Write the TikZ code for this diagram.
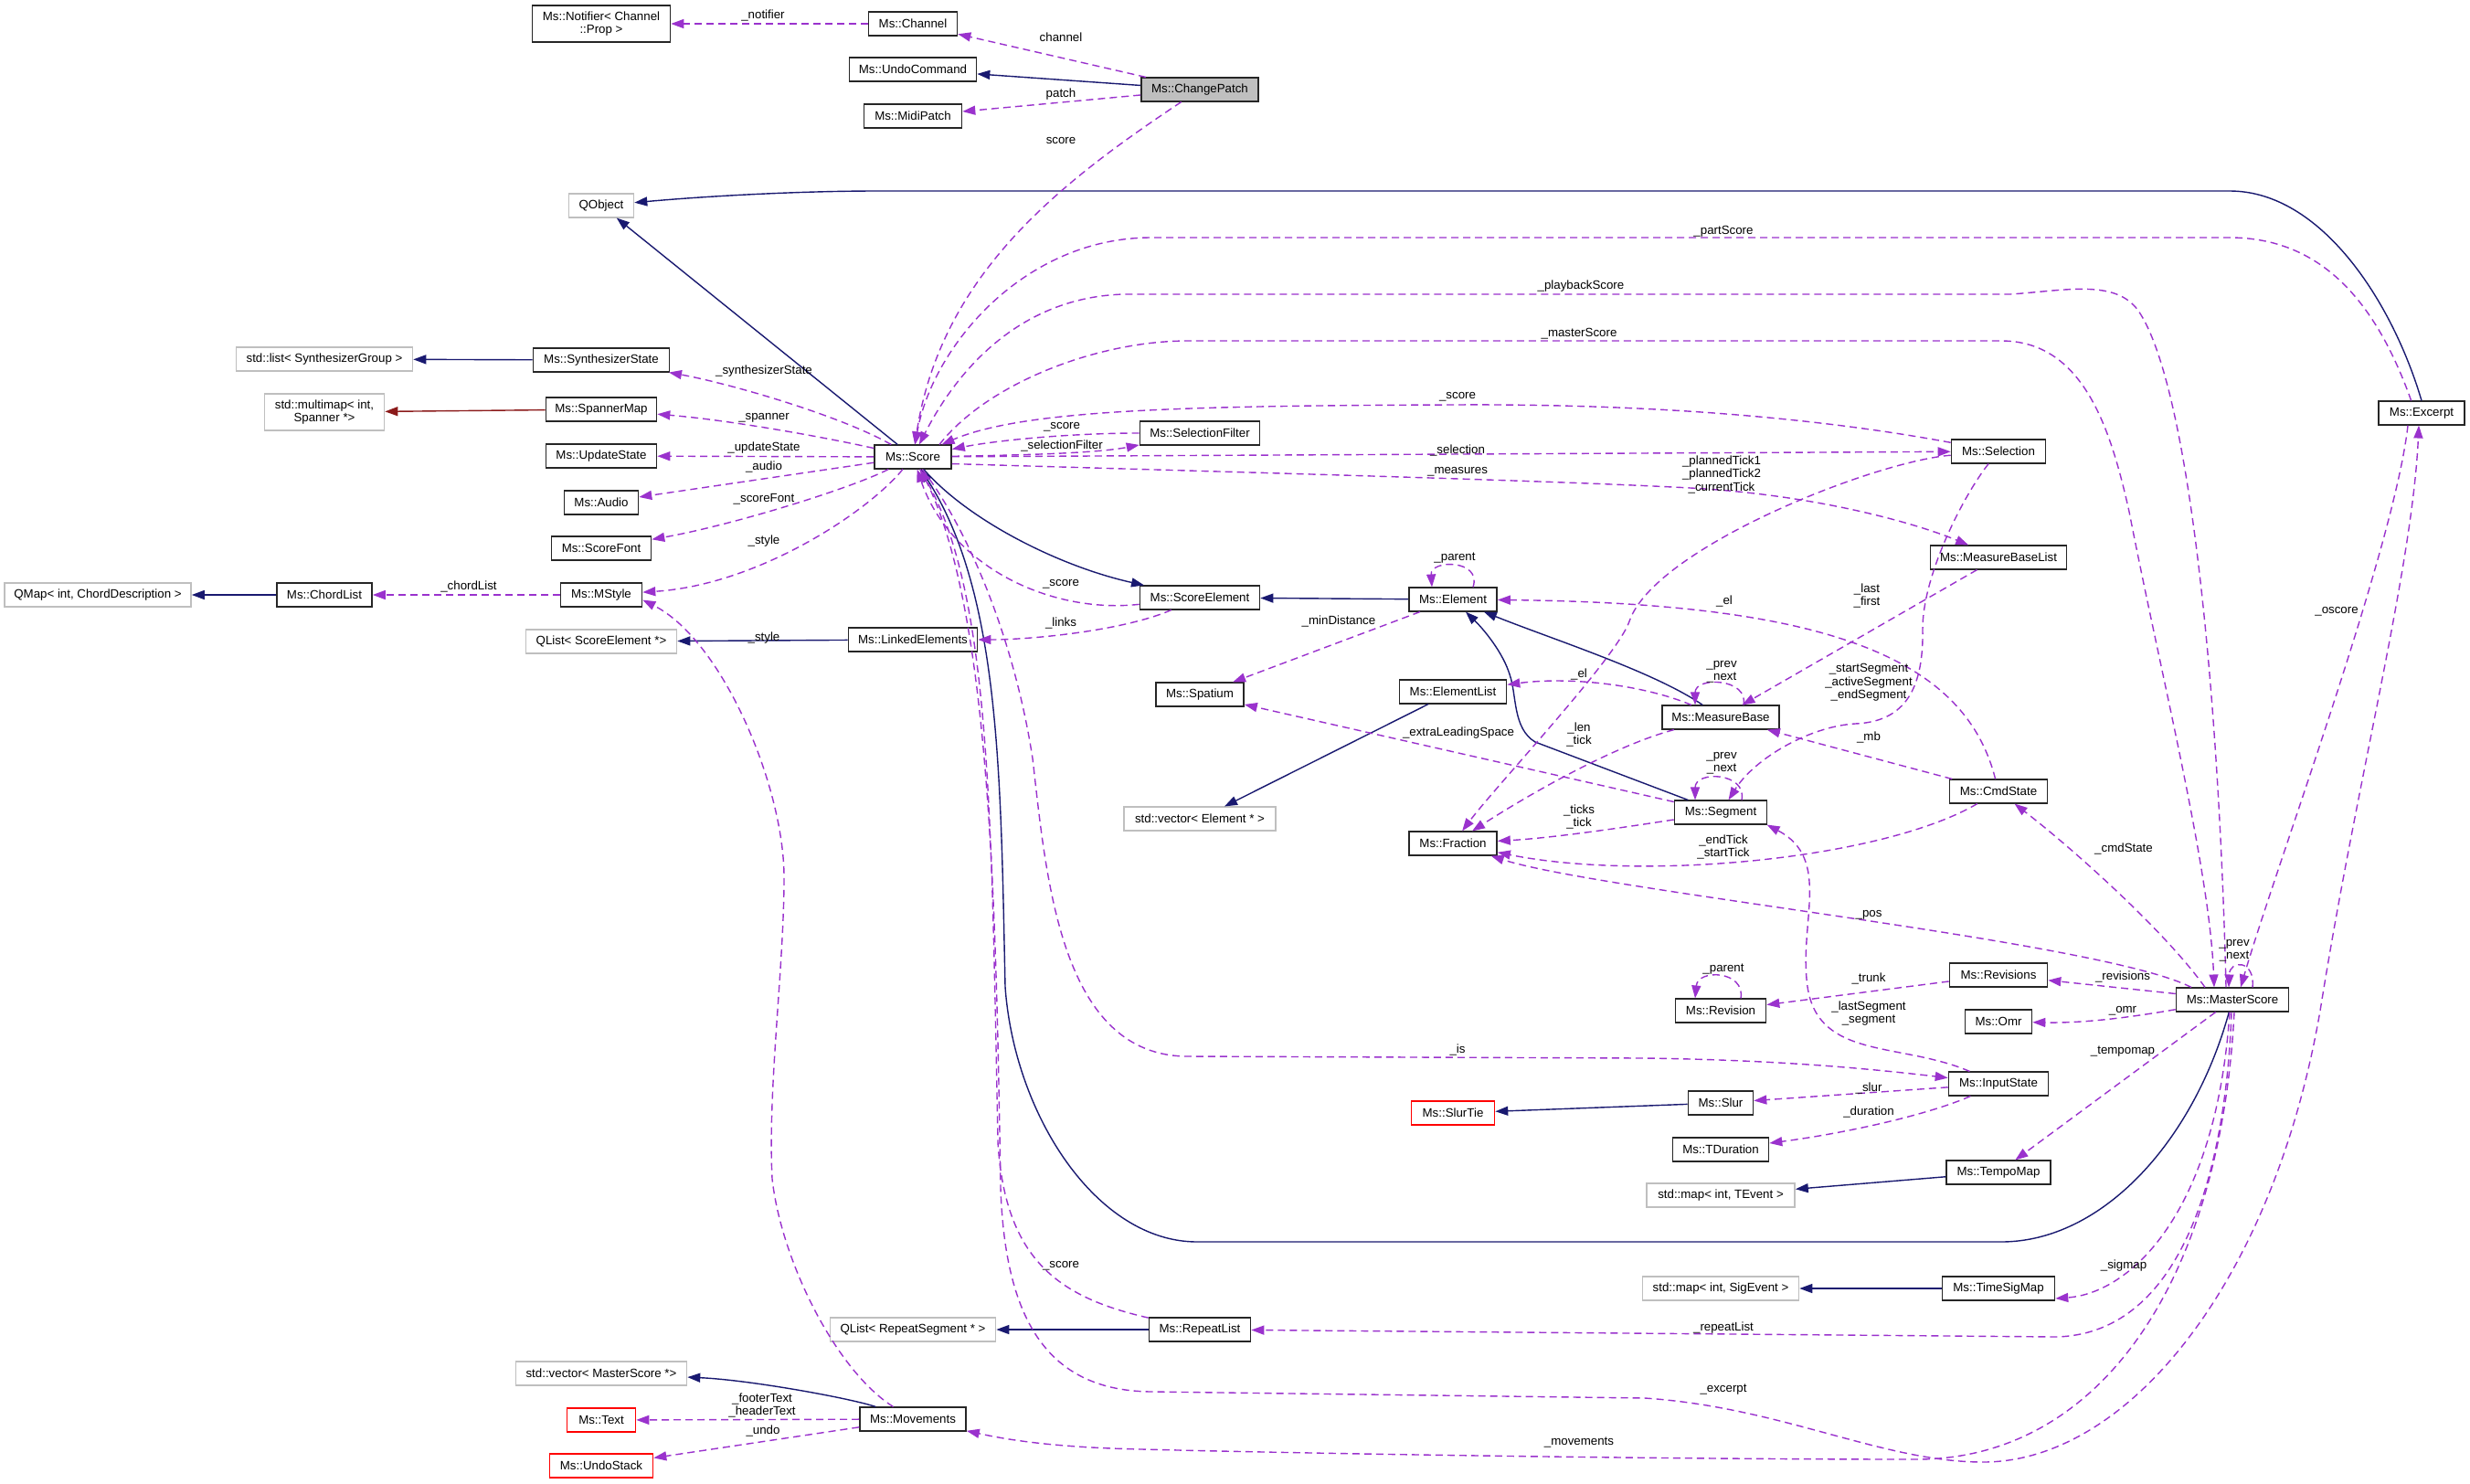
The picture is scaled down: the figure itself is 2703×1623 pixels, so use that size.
\documentclass[tikz,border=0pt]{standalone}
\usepackage{fontspec}
\setmainfont{Liberation Sans}
\usetikzlibrary{arrows.meta}
\definecolor{inhc}{HTML}{191970}
\definecolor{usec}{HTML}{9A32CD}
\definecolor{tplc}{HTML}{8B1A1A}
\definecolor{extc}{HTML}{BFBFBF}
\definecolor{redc}{HTML}{FF0000}
\begin{document}
\begin{tikzpicture}[x=1pt,y=-1pt,
  every node/.style={font=\fontsize{13.3pt}{14.5pt}\selectfont},
  box/.style={draw=black!85, line width=1.6pt, fill=white, minimum height=25.5pt, inner sep=0pt, align=center},
  ext/.style={box, draw=extc},
  miss/.style={box, draw=redc},
  root/.style={box, fill=extc},
  tall/.style={minimum height=40pt},
  inh/.style={draw=inhc, line width=1.4pt, -{Triangle[length=14pt,width=10pt]}},
  tpl/.style={inh, draw=tplc},
  usage/.style={draw=usec, line width=1.4pt, dash pattern=on 8pt off 5pt, -{Triangle[length=14pt,width=10pt]}},
  lbl/.style={align=center, inner sep=0pt, text=black},
]
\fill[white] (0,0) rectangle (2703,1623);
\useasboundingbox (0,0) rectangle (2703,1623);

% ---------- nodes ----------
\node[box, minimum width=151pt, tall] (notifier) at (658,26) {Ms::Notifier< Channel\\::Prop >};
\node[box, minimum width=97pt] (channel) at (999,26) {Ms::Channel};
\node[box, minimum width=139pt] (undocmd) at (999,76) {Ms::UndoCommand};
\node[root, minimum width=128pt] (changepatch) at (1313,98) {Ms::ChangePatch};
\node[box, minimum width=107pt] (midipatch) at (999,127) {Ms::MidiPatch};
\node[ext, minimum width=71pt] (qobject) at (658,225) {QObject};
\node[ext, minimum width=193pt] (stdlist) at (355,393) {std::list< SynthesizerGroup >};
\node[box, minimum width=149pt] (synthstate) at (658,394) {Ms::SynthesizerState};
\node[ext, minimum width=131pt, tall] (multimap) at (355,451) {std::multimap< int,\\Spanner *>};
\node[box, minimum width=121pt] (spannermap) at (658,448) {Ms::SpannerMap};
\node[box, minimum width=121pt] (updatestate) at (658,499) {Ms::UpdateState};
\node[box, minimum width=81pt] (audio) at (658,550) {Ms::Audio};
\node[box, minimum width=109pt] (scorefont) at (658,600) {Ms::ScoreFont};
\node[ext, minimum width=204pt] (qmap) at (107,651) {QMap< int, ChordDescription >};
\node[box, minimum width=104pt] (chordlist) at (355,651) {Ms::ChordList};
\node[box, minimum width=89pt] (mstyle) at (658,651) {Ms::MStyle};
\node[ext, minimum width=165pt] (qlistse) at (658,702) {QList< ScoreElement *>};
\node[box, minimum width=84pt] (score) at (999,500) {Ms::Score};
\node[box, minimum width=131pt] (selfilter) at (1313,474) {Ms::SelectionFilter};
\node[box, minimum width=141pt] (linked) at (999,700) {Ms::LinkedElements};
\node[box, minimum width=131pt] (scoreel) at (1313,654) {Ms::ScoreElement};
\node[box, minimum width=96pt] (spatium) at (1313,760) {Ms::Spatium};
\node[ext, minimum width=166pt] (vecel) at (1313,896) {std::vector< Element * >};
\node[ext, minimum width=181pt] (qlistrs) at (999,1455) {QList< RepeatSegment * >};
\node[box, minimum width=111pt] (repeatlist) at (1313,1455) {Ms::RepeatList};
\node[ext, minimum width=187pt] (vecms) at (658,1503) {std::vector< MasterScore *>};
\node[miss, minimum width=75pt] (txt) at (658,1554) {Ms::Text};
\node[miss, minimum width=113pt] (undostack) at (658,1604) {Ms::UndoStack};
\node[box, minimum width=116pt] (movements) at (999,1553) {Ms::Movements};
\node[box, minimum width=96pt] (element) at (1590,656) {Ms::Element};
\node[box, minimum width=117pt] (elementlist) at (1590,757) {Ms::ElementList};
\node[box, minimum width=96pt] (fraction) at (1590,923) {Ms::Fraction};
\node[miss, minimum width=91pt] (slurtie) at (1590,1218) {Ms::SlurTie};
\node[box, minimum width=128pt] (measurebase) at (1883,785) {Ms::MeasureBase};
\node[box, minimum width=101pt] (segment) at (1883,889) {Ms::Segment};
\node[box, minimum width=99pt] (revision) at (1883,1106) {Ms::Revision};
\node[box, minimum width=71pt] (slur) at (1883,1207) {Ms::Slur};
\node[box, minimum width=105pt] (tduration) at (1883,1258) {Ms::TDuration};
\node[ext, minimum width=162pt] (mapte) at (1883,1308) {std::map< int, TEvent >};
\node[ext, minimum width=171pt] (mapse) at (1883,1410) {std::map< int, SigEvent >};
\node[box, minimum width=103pt] (selection) at (2187,494) {Ms::Selection};
\node[box, minimum width=149pt] (mbl) at (2187,610) {Ms::MeasureBaseList};
\node[box, minimum width=107pt] (cmdstate) at (2187,866) {Ms::CmdState};
\node[box, minimum width=107pt] (revisions) at (2187,1067) {Ms::Revisions};
\node[box, minimum width=73pt] (omr) at (2187,1118) {Ms::Omr};
\node[box, minimum width=109pt] (inputstate) at (2187,1186) {Ms::InputState};
\node[box, minimum width=114pt] (tempomap) at (2187,1283) {Ms::TempoMap};
\node[box, minimum width=123pt] (timesigmap) at (2187,1410) {Ms::TimeSigMap};
\node[box, minimum width=123pt] (masterscore) at (2443,1094) {Ms::MasterScore};
\node[box, minimum width=94pt] (excerpt) at (2650,452) {Ms::Excerpt};

% ---------- inheritance ----------
\draw[inh] (changepatch) -- (undocmd);
\draw[inh] (excerpt.north) .. controls (2618,330) and (2540,209) .. (2440,209) -- (960,209) .. controls (880,209) and (780,214) .. (qobject);
\draw[inh] (score) -- (qobject);
\draw[inh] (synthstate) -- (stdlist);
\draw[tpl] (spannermap) -- (multimap);
\draw[inh] (chordlist) -- (qmap);
\draw[inh] (score) .. controls (1060,570) and (1160,620) .. (scoreel);
\draw[inh] (element) -- (scoreel);
\draw[inh] (linked) -- (qlistse);
\draw[inh] (elementlist) -- (vecel);
\draw[inh] (measurebase) .. controls (1810,735) and (1700,700) .. (element);
\draw[inh] (segment) -- (1680,812) .. controls (1655,797) and (1660,760) .. (1652,738) .. controls (1645,715) and (1625,690) .. (element);
\draw[inh] (masterscore) .. controls (2400,1250) and (2300,1359) .. (2190,1359) -- (1310,1359) .. controls (1200,1359) and (1110,1220) .. (1100,1080) .. controls (1095,850) and (1095,650) .. (score);
\draw[inh] (movements) .. controls (930,1530) and (820,1510) .. (vecms);
\draw[inh] (repeatlist) -- (qlistrs);
\draw[inh] (slur) -- (slurtie);
\draw[inh] (tempomap) -- (mapte);
\draw[inh] (timesigmap) -- (mapse);

% ---------- usage ----------
\draw[usage] (channel) -- (notifier);
\draw[usage] (changepatch) -- (channel);
\draw[usage] (changepatch) -- (midipatch);
\draw[usage] (changepatch) .. controls (1160,200) and (1030,300) .. (score);
\draw[usage] (score) .. controls (920,455) and (800,420) .. (synthstate);
\draw[usage] (score) .. controls (900,478) and (800,460) .. (spannermap);
\draw[usage] (score) -- (updatestate);
\draw[usage] (score) -- (audio);
\draw[usage] (score) .. controls (930,535) and (800,575) .. (scorefont);
\draw[usage] (score) .. controls (950,560) and (830,640) .. (mstyle);
\draw[usage] (mstyle) -- (chordlist);
\draw[usage] (movements) .. controls (915,1500) and (855,1380) .. (845,1290) .. controls (840,1190) and (858,1060) .. (858,960) .. controls (858,860) and (790,700) .. (mstyle.-7);
\draw[usage] (scoreel) .. controls (1230,690) and (1130,700) .. (linked);
\draw[usage] (scoreel) .. controls (1150,672) and (1040,620) .. (score);
\draw[usage] ([xshift=22pt]element.north) .. controls (1622,612) and (1565,612) .. ([xshift=-23pt]element.north);
\draw[usage] (element) -- (spatium);
\draw[usage] ([xshift=25pt]measurebase.north) .. controls (1914,742) and (1855,740) .. ([xshift=-28pt]measurebase.north);
\draw[usage] (measurebase) .. controls (1800,750) and (1720,740) .. (elementlist);
\draw[usage] (measurebase) .. controls (1770,815) and (1680,865) .. (fraction);
\draw[usage] (segment) -- (spatium);
\draw[usage] (segment) .. controls (1780,905) and (1700,917) .. (fraction);
\draw[usage] ([xshift=23pt]segment.north) .. controls (1912,845) and (1855,843) .. ([xshift=-28pt]segment.north);
\draw[usage] (cmdstate) .. controls (2060,940) and (1800,965) .. (fraction);
\draw[usage] (cmdstate) -- (measurebase);
\draw[usage] (cmdstate) .. controls (2150,720) and (2000,660) .. (element);
\draw[usage] (mbl) -- (measurebase);
\draw[usage] (selection) .. controls (2150,540) and (2103,630) .. (2104,690) .. controls (2105,760) and (2080,790) .. (2030,792) .. controls (1980,795) and (1920,830) .. (segment);
\draw[usage] (selection) .. controls (2050,505) and (1810,600) .. (1783,680) .. controls (1769,720) and (1637,860) .. (fraction);
\draw[usage] (score) -- (selection);
\draw[usage] (selection) .. controls (1950,450) and (1750,442) .. (1590,443) .. controls (1300,444) and (1120,448) .. (score);
\draw[usage] (selfilter) .. controls (1170,474) and (1090,482) .. (score);
\draw[usage] (score) .. controls (1120,498) and (1200,496) .. (selfilter);
\draw[usage] (score.-10) .. controls (1400,518) and (1700,526) .. (1850,534) .. controls (1980,541) and (2090,570) .. (mbl);
\draw[usage] (excerpt.130) .. controls (2600,330) and (2540,260) .. (2440,260) -- (1260,260) .. controls (1120,260) and (1020,380) .. (score);
\draw[usage] ([xshift=-7pt]masterscore.north) .. controls (2428,750) and (2395,420) .. (2340,340) .. controls (2315,305) and (2260,318) .. (2200,322) -- (1230,322) .. controls (1120,325) and (1050,400) .. (score);
\draw[usage] (score.25) .. controls (1080,420) and (1200,373) .. (1300,373) -- (2190,373) .. controls (2280,373) and (2310,470) .. (2330,560) .. controls (2365,740) and (2418,950) .. ([xshift=-20pt]masterscore.north);
\draw[usage] ([xshift=-45pt]masterscore.north) .. controls (2300,1030) and (1750,975) .. (fraction);
\draw[usage] ([xshift=-30pt]masterscore.north) .. controls (2370,1020) and (2270,930) .. (cmdstate);
\draw[usage] (masterscore) -- (revisions);
\draw[usage] (masterscore) .. controls (2350,1110) and (2290,1120) .. (omr);
\draw[usage] (masterscore) -- (tempomap);
\draw[usage] ([xshift=22pt]masterscore.north) .. controls (2468,1050) and (2440,1050) .. ([xshift=-4pt]masterscore.north);
\draw[usage] ([xshift=-15pt]excerpt.south) .. controls (2620,600) and (2490,950) .. ([xshift=9pt]masterscore.north);
\draw[usage] (score) .. controls (1060,580) and (1110,700) .. (1130,830) .. controls (1145,960) and (1160,1156) .. (1300,1156) -- (1800,1158) .. controls (1950,1160) and (2050,1170) .. (inputstate);
\draw[usage] (repeatlist) .. controls (1160,1420) and (1100,1380) .. (1092,1250) .. controls (1085,900) and (1085,650) .. (score);
\draw[usage] (score) .. controls (1085,650) and (1090,1000) .. (1095,1300) .. controls (1100,1450) and (1150,1522) .. (1260,1523) -- (1800,1530) .. controls (1950,1540) and (2060,1600) .. (2170,1600) .. controls (2330,1600) and (2490,1400) .. (2540,1100) .. controls (2580,850) and (2640,620) .. ([xshift=-3pt]excerpt.south);
\draw[usage] (inputstate) .. controls (2080,1140) and (1990,1160) .. (1978,1080) .. controls (1968,1010) and (2005,940) .. (segment.-15);
\draw[usage] (inputstate) -- (slur);
\draw[usage] (inputstate) .. controls (2110,1220) and (2020,1240) .. (tduration);
\draw[usage] (revisions) -- (revision);
\draw[usage] ([xshift=22pt]revision.north) .. controls (1910,1062) and (1858,1060) .. ([xshift=-28pt]revision.north);
\draw[usage] ([xshift=-3pt]masterscore.south) .. controls (2425,1330) and (2330,1415) .. (timesigmap.-10);
\draw[usage] ([xshift=-1pt]masterscore.south) .. controls (2435,1300) and (2380,1460) .. (2250,1463) -- (repeatlist);
\draw[usage] ([xshift=2pt]masterscore.south) .. controls (2430,1400) and (2300,1595) .. (2100,1597) .. controls (1800,1597) and (1400,1590) .. (1250,1586) .. controls (1150,1584) and (1100,1575) .. (movements);
\draw[usage] (movements) -- (txt);
\draw[usage] (movements) -- (undostack);

% ---------- labels ----------
\node[lbl] (l1) at (835,17) {\_notifier};
\node[lbl] (l2) at (1161,41) {channel};
\node[lbl] (l3) at (1161,103) {patch};
\node[lbl] (l4) at (1161,154) {score};
\node[lbl] (l5) at (836,406) {\_synthesizerState};
\node[lbl] (l6) at (836,457) {\_spanner};
\node[lbl] (l7) at (836,490) {\_updateState};
\node[lbl] (l8) at (836,511) {\_audio};
\node[lbl] (l9) at (836,546) {\_scoreFont};
\node[lbl] (l10) at (836,592) {\_style};
\node[lbl] (l11) at (513,642) {\_chordList};
\node[lbl] (l12) at (836,698) {\_style};
\node[lbl] (l13) at (1161,639) {\_score};
\node[lbl] (l14) at (1161,682) {\_links};
\node[lbl] (l15) at (1162,467) {\_score};
\node[lbl] (l16) at (1162,488) {\_selectionFilter};
\node[lbl] (l17) at (1595,434) {\_score};
\node[lbl] (l18) at (1595,493) {\_selection};
\node[lbl] (l19) at (1595,516) {\_measures};
\node[lbl] (l20) at (1886,253) {\_partScore};
\node[lbl] (l21) at (1730,313) {\_playbackScore};
\node[lbl] (l22) at (1728,365) {\_masterScore};
\node[lbl] (l23) at (1884,519) {\_plannedTick1\\\_plannedTick2\\\_currentTick};
\node[lbl] (l24) at (1592,611) {\_parent};
\node[lbl] (l25) at (1465,680) {\_minDistance};
\node[lbl] (l26) at (1887,658) {\_el};
\node[lbl] (l27) at (2043,652) {\_last\\\_first};
\node[lbl] (l28) at (1884,735) {\_prev\\\_next};
\node[lbl] (l29) at (1728,738) {\_el};
\node[lbl] (l30) at (2045,747) {\_startSegment\\\_activeSegment\\\_endSegment};
\node[lbl] (l31) at (1728,804) {\_len\\\_tick};
\node[lbl] (l32) at (1596,802) {\_extraLeadingSpace};
\node[lbl] (l33) at (2045,807) {\_mb};
\node[lbl] (l34) at (1884,835) {\_prev\\\_next};
\node[lbl] (l35) at (1728,894) {\_ticks\\\_tick};
\node[lbl] (l36) at (1886,927) {\_endTick\\\_startTick};
\node[lbl] (l37) at (2324,929) {\_cmdState};
\node[lbl] (l38) at (2045,1001) {\_pos};
\node[lbl] (l39) at (2445,1040) {\_prev\\\_next};
\node[lbl] (l40) at (1886,1061) {\_parent};
\node[lbl] (l41) at (2045,1071) {\_trunk};
\node[lbl] (l42) at (2323,1069) {\_revisions};
\node[lbl] (l43) at (2323,1106) {\_omr};
\node[lbl] (l44) at (2045,1109) {\_lastSegment\\\_segment};
\node[lbl] (l45) at (1595,1149) {\_is};
\node[lbl] (l46) at (2323,1151) {\_tempomap};
\node[lbl] (l47) at (2045,1191) {\_slur};
\node[lbl] (l48) at (2045,1217) {\_duration};
\node[lbl] (l49) at (1161,1385) {\_score};
\node[lbl] (l50) at (2324,1385) {\_sigmap};
\node[lbl] (l51) at (1886,1453) {\_repeatList};
\node[lbl] (l52) at (1886,1521) {\_excerpt};
\node[lbl] (l53) at (1728,1578) {\_movements};
\node[lbl] (l54) at (834,1538) {\_footerText\\\_headerText};
\node[lbl] (l55) at (835,1566) {\_undo};
\node[lbl] (l56) at (2557,669) {\_oscore};
\end{tikzpicture}
\end{document}
